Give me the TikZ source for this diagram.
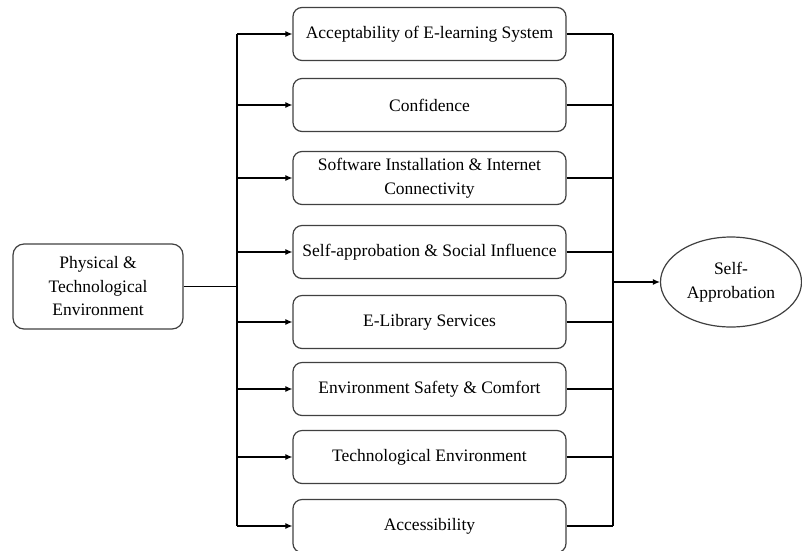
\documentclass[tikz,border=0pt]{standalone}
\usepackage{fontspec}
\setmainfont{Liberation Serif}
\usetikzlibrary{arrows.meta,shapes.geometric}
\begin{document}
\begin{tikzpicture}[x=1pt,y=-1pt,
  txt/.style={align=center,font=\fontsize{17.5}{23.5}\selectfont,text=black},
  factor/.style={txt,draw=black!75,line width=1.2pt,rounded corners=9pt,
    minimum width=273pt,minimum height=53pt,inner sep=2pt},
  source/.style={txt,draw=black!75,line width=1.2pt,rounded corners=11pt,
    minimum width=170pt,minimum height=85pt,inner sep=2pt},
  outcome/.style={txt,ellipse,draw=black!75,line width=1.2pt,
    minimum width=141pt,minimum height=90pt,inner sep=0pt},
  link/.style={draw=black,line width=1.1pt},
  arr/.style={link,-{Latex[length=7pt,width=6pt]}}
]
\useasboundingbox (0,0) rectangle (802,550);

% source construct
\node[source] (pte) at (98,286.5) {Physical \&\\Technological\\Environment};

% mediating factors
\node[factor] (f1) at (429.5,34)  {Acceptability of E-learning System};
\node[factor] (f2) at (429.5,105) {Confidence};
\node[factor] (f3) at (429.5,178) {Software Installation \& Internet\\Connectivity};
\node[factor] (f4) at (429.5,252) {Self-approbation \& Social Influence};
\node[factor] (f5) at (429.5,322) {E-Library Services};
\node[factor] (f6) at (429.5,389) {Environment Safety \& Comfort};
\node[factor] (f7) at (429.5,457) {Technological Environment};
\node[factor] (f8) at (429.5,526) {Accessibility};

% outcome
\node[outcome] (sa) at (731,282) {Self-\\Approbation};

% junction points of the two trunks
\coordinate (jl) at (237,286.5);
\coordinate (jr) at (613,282);

% left trunk and branches
\draw[link] (pte.east) -- (jl);
\draw[link] (f1.west -| jl) -- (f8.west -| jl);
\foreach \n in {f1,f2,f3,f4,f5,f6,f7,f8}
  \draw[arr] (\n.west -| jl) -- (\n.west);

% right trunk and branches
\draw[link] (f1.east -| jr) -- (f8.east -| jr);
\foreach \n in {f1,f2,f3,f4,f5,f6,f7,f8}
  \draw[link] (\n.east) -- (\n.east -| jr);
\draw[arr] (jr) -- (sa.west);
\end{tikzpicture}
\end{document}
